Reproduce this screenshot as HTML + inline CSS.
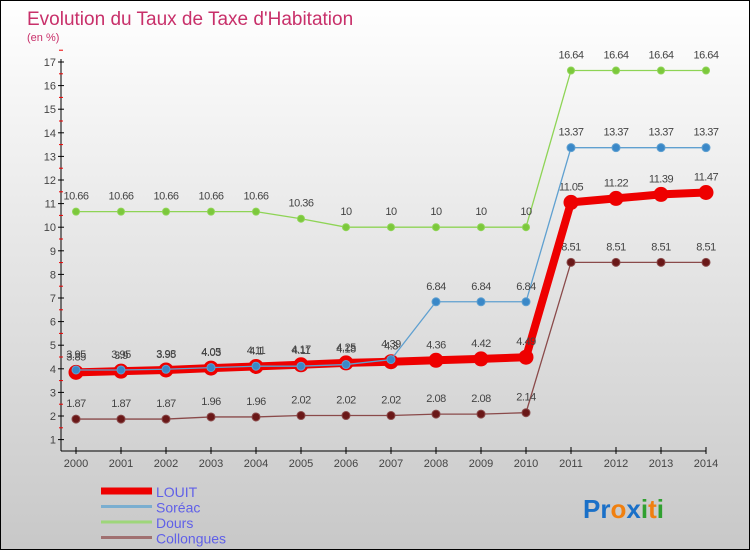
<!DOCTYPE html>
<html><head><meta charset="utf-8"><style>
body{margin:0;}
#c{position:relative;width:748px;height:548px;border:1px solid #000;background:linear-gradient(#fff,#c8c8c8);font-family:"Liberation Sans",sans-serif;overflow:hidden}
</style></head><body>
<div id="c">
<svg id="s" width="748" height="548" xmlns="http://www.w3.org/2000/svg">
<text x="26" y="24" font-size="19" fill="#c8306a">Evolution du Taux de Taxe d'Habitation</text>
<text x="26" y="40" font-size="11" fill="#c8306a">(en %)</text>
</svg>
</div>
<script>
const years=["2000","2001","2002","2003","2004","2005","2006","2007","2008","2009","2010","2011","2012","2013","2014"];
const louit=[3.85,3.9,3.95,4.03,4.1,4.17,4.25,4.3,4.36,4.42,4.49,11.05,11.22,11.39,11.47];
const soreac=[3.95,3.95,3.98,4.05,4.11,4.11,4.18,4.39,6.84,6.84,6.84,13.37,13.37,13.37,13.37];
const dours=[10.66,10.66,10.66,10.66,10.66,10.36,10,10,10,10,10,16.64,16.64,16.64,16.64];
const collongues=[1.87,1.87,1.87,1.96,1.96,2.02,2.02,2.02,2.08,2.08,2.14,8.51,8.51,8.51,8.51];
const yTicks=[1,2,3,4,5,6,7,8,9,10,11,12,13,14,15,16,17];
const s=document.getElementById('s');const NS="http://www.w3.org/2000/svg";
const xs=i=>75+i*(630/14);
const ys=v=>415-(v-2)*23.6;
function el(t,a,p){const e=document.createElementNS(NS,t);for(const k in a)e.setAttribute(k,a[k]);(p||s).appendChild(e);return e;}
let ax=el('line',{x1:60,y1:58,x2:60,y2:450,stroke:'#000'});

let bx=el('line',{x1:60,y1:450,x2:705,y2:450,stroke:'#000'});

yTicks.forEach(v=>{el('line',{x1:57,y1:ys(v),x2:63,y2:ys(v),stroke:'#000'});
el('line',{x1:58,y1:ys(v+0.5),x2:62,y2:ys(v+0.5),stroke:'#e00'});
const t=el('text',{x:55,y:ys(v)+4,'font-size':11,fill:'#444','text-anchor':'end'});t.textContent=v;
});
years.forEach((y,i)=>{el('line',{x1:xs(i),y1:446,x2:xs(i),y2:453,stroke:'#000'});
const t=el('text',{x:xs(i),y:466,'font-size':11,fill:'#444','text-anchor':'middle'});t.textContent=y;
});
function series(d,col,w,r,name,fill){
const g=el('g',{});
el('polyline',{points:d.map((v,i)=>xs(i)+','+ys(v)).join(' '),fill:'none',stroke:col,'stroke-width':w},g);
d.forEach((v,i)=>{const c=el('circle',{cx:xs(i),cy:ys(v),r:r,fill:fill,stroke:col},g);

const t=el('text',{x:xs(i),y:ys(v)-12,'font-size':11,fill:'#444','text-anchor':'middle','letter-spacing':'-0.5'},g);t.textContent=v;
});}
series(dours,'#8ed455',1.3,3.5,'dours','#7cc83c');
series(collongues,'#8a4a4a',1.3,4,'collongues','#6a1818');
series(louit,'#ee0000',8,7,'louit','#ee0000');
series(soreac,'#5fa0d0',1.3,4,'soreac','#3a88c8');
const leg=[["LOUIT","#ee0000",7],["Soréac","#7aaed0",3],["Dours","#9ed67a",3],["Collongues","#a07070",3]];
leg.forEach((l,i)=>{const y=490+i*15.5;
el('line',{x1:100,y1:y,x2:151,y2:y,stroke:l[1],'stroke-width':l[2]});
const t=el('text',{x:155,y:y+6,'font-size':14,fill:'#6060e8'});t.textContent=l[0];
});
const p=el('text',{x:582,y:517,'font-size':26,'font-weight':'bold'});

[["Pr","#1a70c8"],["o","#f08010"],["x","#1a70c8"],["i","#30a030"],["t","#f08010"],["i","#30a030"]].forEach(a=>{const ts=el('tspan',{fill:a[1]},p);ts.textContent=a[0];});
</script>
</body></html>
